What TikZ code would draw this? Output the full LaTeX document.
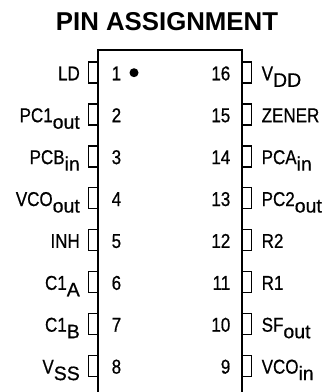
\documentclass[tikz,border=0pt]{standalone}
\usepackage{fontspec}
\setmainfont{Liberation Sans}
\newfontfamily\lblfont[FakeStretch=0.85,FakeBold=0.6]{Liberation Sans}
\newfontfamily\subfont[FakeBold=0.6]{Liberation Sans}
\newcommand{\sbs}[1]{\raisebox{-6.5pt}{\subfont\fontsize{19.5}{19.5}\selectfont #1}}
\tikzset{
  lbl/.style={inner sep=0pt, font=\lblfont\fontsize{20}{20}\selectfont, text=black},
  leftlbl/.style={lbl, anchor=base east},
  rightlbl/.style={lbl, anchor=base west},
  numl/.style={lbl, anchor=base west},
  numr/.style={lbl, anchor=base east},
  stub/.style={draw=black, line width=1.4pt, fill=white},
  body/.style={draw=black, line width=2pt},
}
\begin{document}
\begin{tikzpicture}[x=1pt,y=-1pt]
\useasboundingbox (0,0) rectangle (324,392);
\fill[white] (0,0) rectangle (324,392);
\node[inner sep=0pt, anchor=base, font=\fontsize{25.8}{25.8}\bfseries] (title) at (167,30.7) {PIN ASSIGNMENT};
% left pins
\foreach \i/\t in {1/LD,2/PC1\sbs{out},3/PCB\sbs{in},4/VCO\sbs{out},5/INH,6/C1\sbs{A},7/C1\sbs{B},8/V\sbs{SS}}{
  \pgfmathsetmacro{\yy}{72.5+41.9*(\i-1)}
  \draw[stub] (88.5,\yy-10.5) rectangle (97.5,\yy+10.5);
  \node[leftlbl] (l\i) at (80,\yy+7.8) {\t};
  \node[numl] (n\i) at (111.5,\yy+7.8) {\i};
}
% right pins
\foreach \i/\t in {16/V\sbs{DD},15/ZENER,14/PCA\sbs{in},13/PC2\sbs{out},12/R2,11/R1,10/SF\sbs{out},9/VCO\sbs{in}}{
  \pgfmathsetmacro{\yy}{72.5+41.9*(16-\i)}
  \draw[stub] (242.3,\yy-10.5) rectangle (251.3,\yy+10.5);
  \node[rightlbl] (r\i) at (261.5,\yy+7.8) {\t};
  \node[numr] (n\i) at (230.5,\yy+7.8) {\i};
}
% body
\draw[body] (97.5,393) -- (97.5,50) -- (242.3,50) -- (242.3,393);
\fill[black] (134,72.7) circle (4.5);
\end{tikzpicture}
\end{document}
